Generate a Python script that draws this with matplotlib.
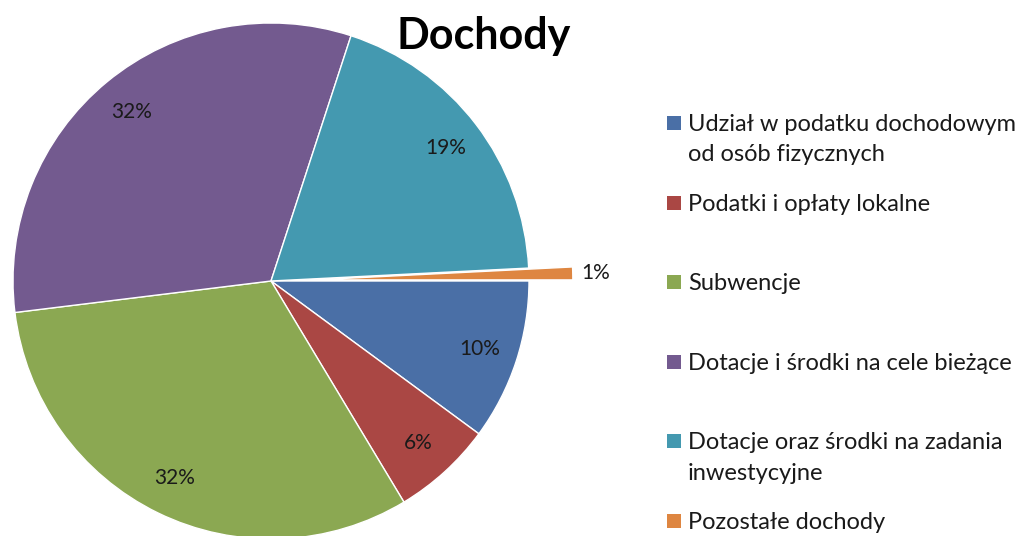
import numpy as np
import matplotlib
matplotlib.use('Agg')
import matplotlib.pyplot as plt
from matplotlib.patches import Rectangle

plt.rcParams['font.family'] = ['Lato', 'DejaVu Sans']

# Dane
categories = ['Udział w podatku dochodowym\nod osób fizycznych',
              'Podatki i opłaty lokalne',
              'Subwencje',
              'Dotacje i środki na cele bieżące',
              'Dotacje oraz środki na zadania\ninwestycyjne',
              'Pozostałe dochody']
shares = [10.1, 6.3, 31.7, 32.0, 19.2, 0.8]
explode = [0, 0, 0, 0, 0, 0.17]
colors = ['#4A6FA6', '#AA4744', '#8BA852', '#735A8F', '#4499B0', '#DE8641']

W, H = 1027, 536
fig = plt.figure(figsize=(W / 100, H / 100), dpi=100)

# srodek kola (271, 281) px, promien 258 px
cx, cy, r = 271, 281, 258
lim = 1.3
half = lim * r
ax = fig.add_axes([(cx - half) / W, (H - cy - half) / H, 2 * half / W, 2 * half / H])

wedges, texts, autotexts = ax.pie(shares, explode=explode, colors=colors,
                                  startangle=0, counterclock=False,
                                  autopct='%.0f%%', pctdistance=0.85,
                                  wedgeprops={'edgecolor': 'white', 'linewidth': 1},
                                  textprops={'fontsize': 15, 'color': '#1a1a1a'})
ax.set_xlim(-lim, lim)
ax.set_ylim(-lim, lim)
ax.set_aspect('equal')
ax.axis('off')

# etykieta malego wycinka na zewnatrz
w = wedges[-1]
mid = np.deg2rad((w.theta1 + w.theta2) / 2)
autotexts[-1].set_position((1.26 * np.cos(mid), 1.26 * np.sin(mid)))

fig.text(484 / W, 1 - 36 / H, 'Dochody', fontsize=31, fontweight='bold',
         ha='center', va='center')

# legenda
y0 = 123
step = 79.6
for i, (lab, col) in enumerate(zip(categories, colors)):
    y = y0 + i * step
    fig.patches.append(Rectangle(((667) / W, 1 - (y + 7) / H), 14 / W, 14 / H,
                                 transform=fig.transFigure, facecolor=col,
                                 edgecolor='none'))
    fig.text(688 / W, 1 - (y - 9) / H, lab, fontsize=17, ha='left', va='top',
             color='#1a1a1a', linespacing=1.55)

fig.savefig('out.png', dpi=100, facecolor='white')
